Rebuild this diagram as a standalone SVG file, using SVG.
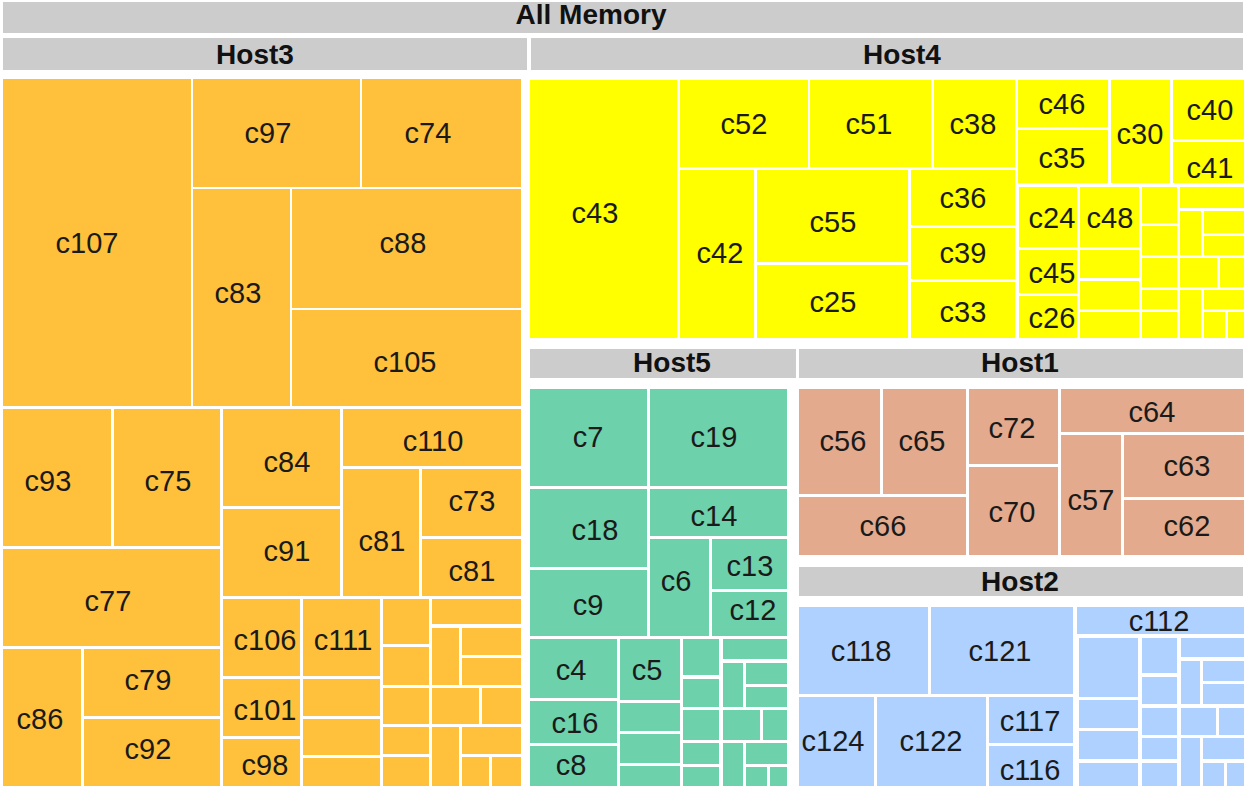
<svg xmlns="http://www.w3.org/2000/svg" width="1246" height="786" viewBox="0 0 1246 786">
<style>
.hd{fill:#cccccc}
.ht{font-family:"Liberation Sans",Arial,sans-serif;font-weight:bold;font-size:28px;fill:#111;text-anchor:middle}
.lb{font-family:"Liberation Sans",Arial,sans-serif;font-size:29px;fill:#1a1a1a;text-anchor:middle}
.h3 rect{fill:#ffc13c}
.h4 rect{fill:#ffff00}
.h5 rect{fill:#6dd1ab}
.h1 rect{fill:#e3aa8e}
.h2 rect{fill:#aed1ff}
</style>
<rect width="1246" height="786" fill="#ffffff"/>
<g id="all-memory"><rect class="hd" x="3" y="2" width="1240" height="31"/><text class="ht" x="591" y="24">All Memory</text></g>
<g id="host3-header"><rect class="hd" x="3" y="38" width="524" height="32"/><text class="ht" x="255" y="64">Host3</text></g>
<g id="host4-header"><rect class="hd" x="531" y="38" width="712" height="32"/><text class="ht" x="902" y="64">Host4</text></g>
<g id="host5-header"><rect class="hd" x="530" y="349" width="266" height="29"/><text class="ht" x="672" y="372">Host5</text></g>
<g id="host1-header"><rect class="hd" x="799" y="349" width="444" height="29"/><text class="ht" x="1020" y="372">Host1</text></g>
<g id="host2-header"><rect class="hd" x="799" y="567" width="444" height="29"/><text class="ht" x="1020" y="591">Host2</text></g>

<g id="host3" class="h3">
<g id="c107"><rect x="3" y="79" width="188" height="327"/><text class="lb" x="87" y="253">c107</text></g>
<g id="c97"><rect x="193" y="79" width="167" height="108"/><text class="lb" x="268" y="143">c97</text></g>
<g id="c74"><rect x="362" y="79" width="159" height="108"/><text class="lb" x="428" y="143">c74</text></g>
<g id="c83"><rect x="193" y="189" width="97" height="217"/><text class="lb" x="238" y="303">c83</text></g>
<g id="c88"><rect x="292" y="189" width="229" height="119"/><text class="lb" x="403" y="253">c88</text></g>
<g id="c105"><rect x="292" y="310" width="229" height="96"/><text class="lb" x="405" y="372">c105</text></g>
<g id="c93"><rect x="3" y="409" width="108" height="137"/><text class="lb" x="48" y="491">c93</text></g>
<g id="c75"><rect x="114" y="409" width="106" height="137"/><text class="lb" x="168" y="491">c75</text></g>
<g id="c84"><rect x="223" y="409" width="117" height="97"/><text class="lb" x="287" y="472">c84</text></g>
<g id="c110"><rect x="343" y="409" width="178" height="57"/><text class="lb" x="433" y="451">c110</text></g>
<g id="c91"><rect x="223" y="509" width="117" height="87"/><text class="lb" x="287" y="561">c91</text></g>
<g id="c81a"><rect x="343" y="469" width="76" height="127"/><text class="lb" x="382" y="551">c81</text></g>
<g id="c73"><rect x="422" y="469" width="99" height="67"/><text class="lb" x="472" y="511">c73</text></g>
<g id="c81b"><rect x="422" y="539" width="99" height="57"/><text class="lb" x="472" y="581">c81</text></g>
<g id="c77"><rect x="3" y="549" width="217" height="97"/><text class="lb" x="108" y="611">c77</text></g>
<g id="c86"><rect x="3" y="649" width="78" height="137"/><text class="lb" x="40" y="729">c86</text></g>
<g id="c79"><rect x="84" y="649" width="136" height="67"/><text class="lb" x="148" y="690">c79</text></g>
<g id="c92"><rect x="84" y="719" width="136" height="67"/><text class="lb" x="148" y="759">c92</text></g>
<g id="c106"><rect x="223" y="599" width="77" height="77"/><text class="lb" x="265" y="650">c106</text></g>
<g id="c111"><rect x="303" y="599" width="77" height="77"/><text class="lb" x="343" y="650">c111</text></g>
<g id="c101"><rect x="223" y="679" width="77" height="57"/><text class="lb" x="265" y="720">c101</text></g>
<g id="c98"><rect x="223" y="739" width="77" height="47"/><text class="lb" x="265" y="775">c98</text></g>
<g id="host3-small">
<rect x="303" y="679" width="77" height="37"/>
<rect x="303" y="719" width="77" height="36"/>
<rect x="303" y="758" width="77" height="28"/>
<rect x="383" y="599" width="46" height="45"/>
<rect x="383" y="647" width="46" height="38"/>
<rect x="383" y="688" width="46" height="36"/>
<rect x="383" y="727" width="46" height="27"/>
<rect x="383" y="757" width="46" height="29"/>
<rect x="432" y="599" width="89" height="25"/>
<rect x="432" y="628" width="27" height="57"/>
<rect x="462" y="628" width="59" height="27"/>
<rect x="462" y="658" width="59" height="27"/>
<rect x="432" y="688" width="47" height="36"/>
<rect x="482" y="688" width="39" height="36"/>
<rect x="432" y="727" width="27" height="59"/>
<rect x="462" y="727" width="59" height="27"/>
<rect x="462" y="757" width="27" height="29"/>
<rect x="492" y="757" width="29" height="29"/>
</g>
</g>

<g id="host4" class="h4">
<g id="c43"><rect x="530" y="80" width="147" height="258"/><text class="lb" x="595" y="223">c43</text></g>
<g id="c52"><rect x="680" y="80" width="128" height="87"/><text class="lb" x="744" y="134">c52</text></g>
<g id="c51"><rect x="810" y="80" width="121" height="87"/><text class="lb" x="869" y="134">c51</text></g>
<g id="c38"><rect x="934" y="80" width="81" height="87"/><text class="lb" x="973" y="134">c38</text></g>
<g id="c46"><rect x="1018" y="80" width="90" height="47"/><text class="lb" x="1062" y="114">c46</text></g>
<g id="c35"><rect x="1018" y="130" width="90" height="53"/><text class="lb" x="1062" y="168">c35</text></g>
<g id="c30"><rect x="1111" y="80" width="59" height="103"/><text class="lb" x="1140" y="144">c30</text></g>
<g id="c40"><rect x="1173" y="80" width="71" height="59"/><text class="lb" x="1210" y="120">c40</text></g>
<g id="c41"><rect x="1173" y="142" width="71" height="41"/><text class="lb" x="1210" y="178">c41</text></g>
<g id="c42"><rect x="680" y="170" width="74" height="168"/><text class="lb" x="720" y="263">c42</text></g>
<g id="c55"><rect x="757" y="170" width="151" height="92"/><text class="lb" x="833" y="232">c55</text></g>
<g id="c25"><rect x="757" y="265" width="151" height="73"/><text class="lb" x="833" y="312">c25</text></g>
<g id="c36"><rect x="911" y="170" width="104" height="55"/><text class="lb" x="963" y="208">c36</text></g>
<g id="c39"><rect x="911" y="228" width="104" height="51"/><text class="lb" x="963" y="263">c39</text></g>
<g id="c33"><rect x="911" y="282" width="104" height="56"/><text class="lb" x="963" y="322">c33</text></g>
<g id="c24"><rect x="1019" y="187" width="58" height="60"/><text class="lb" x="1052" y="228">c24</text></g>
<g id="c48"><rect x="1080" y="187" width="59" height="60"/><text class="lb" x="1110" y="228">c48</text></g>
<g id="c45"><rect x="1019" y="250" width="58" height="43"/><text class="lb" x="1052" y="283">c45</text></g>
<g id="c26"><rect x="1019" y="296" width="58" height="42"/><text class="lb" x="1052" y="328">c26</text></g>
<g id="host4-small">
<rect x="1080" y="250" width="59" height="28"/>
<rect x="1080" y="281" width="59" height="28"/>
<rect x="1080" y="312" width="59" height="26"/>
<rect x="1142" y="187" width="35" height="36"/>
<rect x="1142" y="226" width="35" height="29"/>
<rect x="1142" y="258" width="35" height="29"/>
<rect x="1142" y="290" width="35" height="19"/>
<rect x="1142" y="312" width="35" height="26"/>
<rect x="1180" y="187" width="64" height="21"/>
<rect x="1180" y="211" width="21" height="44"/>
<rect x="1204" y="211" width="40" height="22"/>
<rect x="1204" y="236" width="40" height="19"/>
<rect x="1180" y="258" width="37" height="29"/>
<rect x="1220" y="258" width="24" height="29"/>
<rect x="1180" y="290" width="21" height="48"/>
<rect x="1204" y="290" width="40" height="19"/>
<rect x="1204" y="312" width="21" height="26"/>
<rect x="1228" y="312" width="16" height="26"/>
</g>
</g>

<g id="host5" class="h5">
<g id="c7"><rect x="530" y="389" width="117" height="97"/><text class="lb" x="588" y="447">c7</text></g>
<g id="c19"><rect x="650" y="389" width="137" height="97"/><text class="lb" x="714" y="447">c19</text></g>
<g id="c18"><rect x="530" y="489" width="117" height="78"/><text class="lb" x="595" y="540">c18</text></g>
<g id="c14"><rect x="650" y="489" width="137" height="47"/><text class="lb" x="714" y="526">c14</text></g>
<g id="c9"><rect x="530" y="570" width="117" height="66"/><text class="lb" x="588" y="615">c9</text></g>
<g id="c6"><rect x="650" y="539" width="59" height="97"/><text class="lb" x="676" y="591">c6</text></g>
<g id="c13"><rect x="712" y="539" width="75" height="50"/><text class="lb" x="750" y="576">c13</text></g>
<g id="c12"><rect x="712" y="592" width="75" height="44"/><text class="lb" x="753" y="620">c12</text></g>
<g id="c4"><rect x="530" y="639" width="87" height="59"/><text class="lb" x="571" y="680">c4</text></g>
<g id="c16"><rect x="530" y="701" width="87" height="42"/><text class="lb" x="575" y="733">c16</text></g>
<g id="c8"><rect x="530" y="746" width="87" height="40"/><text class="lb" x="571" y="775">c8</text></g>
<g id="c5"><rect x="620" y="639" width="60" height="61"/><text class="lb" x="647" y="680">c5</text></g>
<g id="host5-small">
<rect x="620" y="703" width="60" height="28"/>
<rect x="620" y="734" width="60" height="29"/>
<rect x="620" y="766" width="60" height="20"/>
<rect x="683" y="639" width="36" height="36"/>
<rect x="683" y="679" width="36" height="28"/>
<rect x="683" y="710" width="36" height="30"/>
<rect x="683" y="743" width="36" height="21"/>
<rect x="683" y="767" width="36" height="19"/>
<rect x="723" y="639" width="64" height="20"/>
<rect x="723" y="663" width="20" height="44"/>
<rect x="746" y="663" width="41" height="21"/>
<rect x="746" y="687" width="41" height="20"/>
<rect x="723" y="710" width="37" height="30"/>
<rect x="763" y="710" width="24" height="30"/>
<rect x="723" y="743" width="20" height="43"/>
<rect x="746" y="743" width="41" height="21"/>
<rect x="746" y="767" width="21" height="19"/>
<rect x="770" y="767" width="17" height="19"/>
</g>
</g>

<g id="host1" class="h1">
<g id="c56"><rect x="799" y="389" width="81" height="105"/><text class="lb" x="843" y="451">c56</text></g>
<g id="c65"><rect x="883" y="389" width="83" height="105"/><text class="lb" x="922" y="451">c65</text></g>
<g id="c72"><rect x="969" y="389" width="89" height="75"/><text class="lb" x="1012" y="438">c72</text></g>
<g id="c64"><rect x="1061" y="389" width="183" height="43"/><text class="lb" x="1152" y="422">c64</text></g>
<g id="c66"><rect x="799" y="497" width="167" height="58"/><text class="lb" x="883" y="536">c66</text></g>
<g id="c70"><rect x="969" y="467" width="89" height="88"/><text class="lb" x="1012" y="522">c70</text></g>
<g id="c57"><rect x="1061" y="435" width="60" height="120"/><text class="lb" x="1091" y="510">c57</text></g>
<g id="c63"><rect x="1124" y="435" width="120" height="62"/><text class="lb" x="1187" y="476">c63</text></g>
<g id="c62"><rect x="1124" y="500" width="120" height="55"/><text class="lb" x="1187" y="536">c62</text></g>
</g>

<g id="host2" class="h2">
<g id="c118"><rect x="799" y="607" width="129" height="87"/><text class="lb" x="861" y="661">c118</text></g>
<g id="c121"><rect x="931" y="607" width="142" height="87"/><text class="lb" x="1000" y="661">c121</text></g>
<g id="c124"><rect x="799" y="697" width="75" height="89"/><text class="lb" x="833" y="751">c124</text></g>
<g id="c122"><rect x="877" y="697" width="109" height="89"/><text class="lb" x="931" y="751">c122</text></g>
<g id="c117"><rect x="989" y="697" width="84" height="46"/><text class="lb" x="1030" y="731">c117</text></g>
<g id="c116"><rect x="989" y="746" width="84" height="40"/><text class="lb" x="1030" y="780">c116</text></g>
<g id="c112"><rect x="1077" y="607" width="167" height="27"/><text class="lb" x="1159" y="631">c112</text></g>
<g id="host2-small">
<rect x="1079" y="638" width="59" height="59"/>
<rect x="1079" y="700" width="59" height="28"/>
<rect x="1079" y="731" width="59" height="28"/>
<rect x="1079" y="763" width="59" height="23"/>
<rect x="1142" y="638" width="35" height="35"/>
<rect x="1142" y="677" width="35" height="27"/>
<rect x="1142" y="708" width="35" height="27"/>
<rect x="1142" y="738" width="35" height="21"/>
<rect x="1142" y="763" width="35" height="23"/>
<rect x="1181" y="638" width="63" height="19"/>
<rect x="1181" y="661" width="19" height="43"/>
<rect x="1203" y="661" width="41" height="20"/>
<rect x="1203" y="684" width="41" height="20"/>
<rect x="1181" y="708" width="35" height="27"/>
<rect x="1219" y="708" width="25" height="27"/>
<rect x="1181" y="738" width="19" height="48"/>
<rect x="1203" y="738" width="41" height="21"/>
<rect x="1203" y="763" width="21" height="23"/>
<rect x="1227" y="763" width="17" height="23"/>
</g>
</g>
</svg>
